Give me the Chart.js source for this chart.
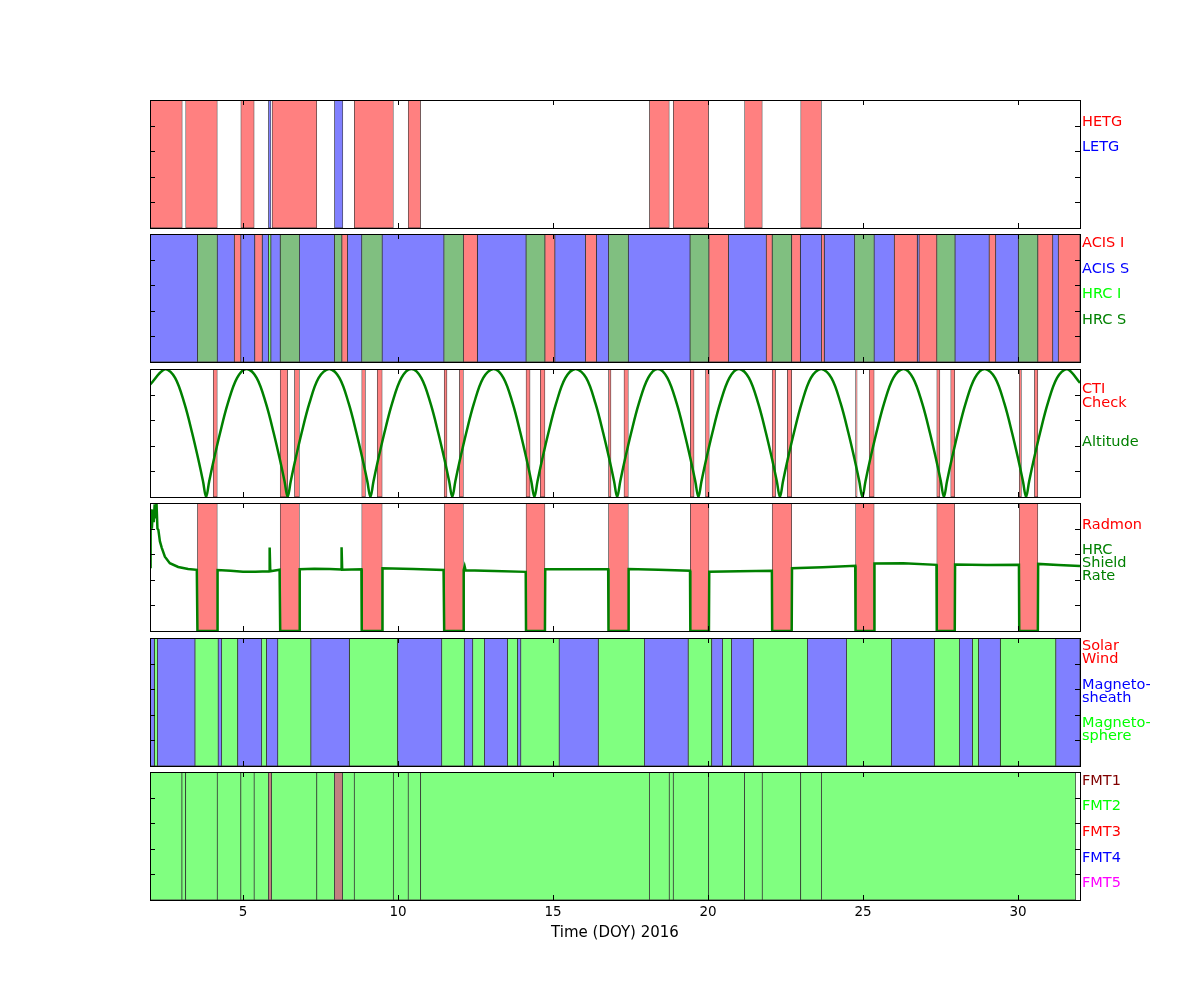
<!DOCTYPE html>
<html>
<head>
<meta charset="utf-8">
<title>Chandra status, DOY 2016</title>
<script src="https://cdn.jsdelivr.net/npm/chart.js@4.4.0/dist/chart.umd.min.js"></script>
<style>
  html, body { margin: 0; padding: 0; background: #fff; }
  #wrap { position: relative; width: 1200px; height: 1000px; }
  #wrap canvas { position: absolute; left: 0; }
</style>
</head>
<body>
<div id="wrap"></div>
<script>
/* ===============================
   Data (time in day of year 2016)
================================ */
const xTickVals = [5, 10, 15, 20, 25, 30];

// panel 1 - gratings
const hetgBands = [[2.00, 3.04], [3.15, 4.17], [4.93, 5.36], [5.94, 7.38], [8.59, 9.85], [10.33, 10.73],
  [18.11, 18.75], [18.88, 20.02], [21.18, 21.75], [22.99, 23.66]];
const letgBands = [[5.82, 5.90], [7.95, 8.22]];

// panel 2 - instruments
const acisIBands = [[4.72, 4.93], [5.38, 5.62], [8.19, 8.37], [12.11, 12.56], [14.74, 15.06], [16.05, 16.40],
  [20.03, 20.66], [21.88, 22.07], [22.70, 22.98], [23.66, 23.75], [26.01, 26.75], [26.81, 27.38],
  [29.07, 29.28], [30.64, 31.12], [31.30, 32.00]];
const acisSBands = [[2.00, 3.53], [4.17, 4.72], [4.93, 5.38], [5.62, 5.82], [5.90, 6.20], [6.82, 7.95],
  [8.37, 8.83], [9.49, 11.48], [12.56, 14.13], [15.06, 16.05], [16.40, 16.79], [17.43, 19.42],
  [20.66, 21.88], [22.98, 23.66], [23.75, 24.73], [25.36, 26.01], [26.75, 26.81], [27.97, 29.07],
  [29.28, 30.01], [31.12, 31.30]];
const hrcIBands = [[5.82, 5.90]];
const hrcSBands = [[3.53, 4.17], [6.20, 6.82], [7.95, 8.19], [8.83, 9.49], [11.48, 12.11], [14.13, 14.74],
  [16.79, 17.43], [19.42, 20.03], [22.07, 22.70], [24.73, 25.36], [27.38, 27.97], [30.01, 30.64]];

// panel 3 - CTI checks and altitude (1000 km)
const ctiBands = [[4.04, 4.17], [6.20, 6.44], [6.66, 6.82], [8.83, 8.95], [9.33, 9.49], [11.49, 11.58],
  [11.98, 12.11], [14.13, 14.26], [14.59, 14.74], [16.79, 16.87], [17.29, 17.43], [19.43, 19.55],
  [19.92, 20.04], [22.07, 22.18], [22.56, 22.70], [24.76, 24.81], [25.20, 25.36], [27.38, 27.48],
  [27.83, 27.96], [30.04, 30.11], [30.53, 30.64]];
const altTimes = [
  2.00, 2.49,
  2.81, 3.11, 3.36, 3.56, 3.71, 3.81,
  3.91, 4.06, 4.26, 4.51, 4.81, 5.12,
  5.44, 5.74, 5.99, 6.19, 6.34, 6.44,
  6.54, 6.69, 6.89, 7.14, 7.44, 7.78,
  8.11, 8.41, 8.66, 8.86, 9.01, 9.11,
  9.21, 9.36, 9.56, 9.81, 10.11, 10.43,
  10.75, 11.05, 11.30, 11.50, 11.65, 11.75,
  11.85, 12.00, 12.20, 12.45, 12.75, 13.08,
  13.40, 13.70, 13.95, 14.15, 14.30, 14.40,
  14.50, 14.65, 14.85, 15.10, 15.40, 15.73,
  16.07, 16.37, 16.62, 16.82, 16.97, 17.07,
  17.17, 17.32, 17.52, 17.77, 18.07, 18.38,
  18.69, 18.99, 19.24, 19.44, 19.59, 19.69,
  19.79, 19.94, 20.14, 20.39, 20.69, 21.00,
  21.32, 21.62, 21.87, 22.07, 22.22, 22.32,
  22.42, 22.57, 22.77, 23.02, 23.32, 23.65,
  23.98, 24.28, 24.53, 24.73, 24.88, 24.98,
  25.08, 25.23, 25.43, 25.68, 25.98, 26.30,
  26.61, 26.91, 27.16, 27.36, 27.51, 27.61,
  27.71, 27.86, 28.06, 28.31, 28.61, 28.93,
  29.26, 29.56, 29.81, 30.01, 30.16, 30.26,
  30.36, 30.51, 30.71, 30.96, 31.26, 31.58,
  32.00
];
const altValues = [
  124, 140,
  131, 105, 75, 48, 26, 10,
  26, 48, 75, 105, 131, 140,
  131, 105, 75, 48, 26, 10,
  26, 48, 75, 105, 131, 140,
  131, 105, 75, 48, 26, 10,
  26, 48, 75, 105, 131, 140,
  131, 105, 75, 48, 26, 10,
  26, 48, 75, 105, 131, 140,
  131, 105, 75, 48, 26, 10,
  26, 48, 75, 105, 131, 140,
  131, 105, 75, 48, 26, 10,
  26, 48, 75, 105, 131, 140,
  131, 105, 75, 48, 26, 10,
  26, 48, 75, 105, 131, 140,
  131, 105, 75, 48, 26, 10,
  26, 48, 75, 105, 131, 140,
  131, 105, 75, 48, 26, 10,
  26, 48, 75, 105, 131, 140,
  131, 105, 75, 48, 26, 10,
  26, 48, 75, 105, 131, 140,
  131, 105, 75, 48, 26, 10,
  26, 48, 75, 105, 131, 140,
  126
];
const altTicks = [36, 62, 88, 114];

// panel 4 - radmon off periods and HRC shield rate
const radmonBands = [[3.53, 4.17], [6.20, 6.82], [8.83, 9.49], [11.49, 12.11], [14.13, 14.74], [16.79, 17.43],
  [19.43, 20.03], [22.07, 22.70], [24.76, 25.36], [27.38, 27.96], [30.04, 30.64]];
const shieldTimes = [
  2.00, 2.02, 2.04, 2.06, 2.09, 2.12, 2.15, 2.18, 2.21, 2.24, 2.27, 2.32, 2.38, 2.48, 2.64, 2.91, 3.23, 3.51,
  3.53, 4.17, 4.18, 4.60, 5.00, 5.40, 5.85, 5.86, 5.88, 6.18,
  6.20, 6.82, 6.83, 7.30, 7.80, 8.17, 8.18, 8.20, 8.82,
  8.83, 9.49, 9.50, 10.50, 11.47,
  11.49, 12.11, 12.12, 12.15, 12.18, 13.10, 14.12,
  14.13, 14.74, 14.75, 15.70, 16.78,
  16.79, 17.43, 17.44, 18.40, 19.42,
  19.43, 20.03, 20.04, 21.00, 22.06,
  22.07, 22.70, 22.71, 23.70, 24.75,
  24.76, 25.36, 25.37, 26.30, 27.37,
  27.38, 27.96, 27.97, 29.00, 30.03,
  30.04, 30.64, 30.65, 31.30, 32.00
];
const shieldValues = [
  500, 850, 950, 800, 920, 850, 990, 880, 1000, 800, 790, 700, 650, 580, 530, 500, 484, 478,
  0, 0, 476, 470, 463, 462, 466, 652, 466, 478,
  0, 0, 482, 486, 484, 480, 655, 478, 482,
  0, 0, 490, 484, 477,
  0, 0, 478, 505, 474, 468, 462,
  0, 0, 482, 482, 482,
  0, 0, 484, 478, 471,
  0, 0, 463, 466, 470,
  0, 0, 490, 498, 510,
  0, 0, 528, 530, 517,
  0, 0, 520, 515, 517,
  0, 0, 524, 515, 508
];
const shieldTicks = [200, 400, 600, 800];

// panel 5 - environment
const solarWindBands = [];
const sheathBands = [[2.00, 2.14], [2.24, 3.45], [4.20, 4.31], [4.83, 5.60], [5.76, 6.12], [7.19, 8.43],
  [9.99, 11.41], [12.14, 12.41], [12.79, 13.53], [13.86, 13.96], [15.20, 16.46], [17.95, 19.36],
  [20.12, 20.47], [20.76, 21.46], [23.21, 24.47], [25.92, 27.30], [28.11, 28.53], [28.73, 29.43],
  [31.22, 32.00]];
const sphereBands = [[2.14, 2.24], [3.45, 4.20], [4.31, 4.83], [5.60, 5.76], [6.12, 7.19], [8.43, 9.99],
  [11.41, 12.14], [12.41, 12.79], [13.53, 13.86], [13.96, 15.20], [16.46, 17.95], [19.36, 20.12],
  [20.47, 20.76], [21.46, 23.21], [24.47, 25.92], [27.30, 28.11], [28.53, 28.73], [29.43, 31.22]];

// panel 6 - telemetry format
const fmt1Bands = [[5.82, 5.92], [7.95, 8.21]];
const fmt2Bands = [[2.00, 3.03], [3.03, 3.15], [3.15, 4.17], [4.17, 4.93], [4.93, 5.36], [5.36, 5.82],
  [5.92, 7.38], [7.38, 7.95], [8.21, 8.59], [8.59, 9.85], [9.85, 10.33], [10.33, 10.73], [10.73, 18.11],
  [18.11, 18.75], [18.75, 18.88], [18.88, 20.02], [20.02, 21.18], [21.18, 21.75], [21.75, 22.99],
  [22.99, 23.66], [23.66, 31.86]];

const bandTicks = [1, 2, 3, 4];

/* ===============================
   Right-hand labels
================================ */
const p1Labels = ["HETG", "LETG"];
const p2Labels = ["ACIS I", "ACIS S", "HRC I", "HRC S"];
const p3Labels = ["CTI", "Check", "Altitude"];
const p4Labels = ["Radmon", "HRC", "Shield", "Rate"];
const p5Labels = ["Solar", "Wind", "Magneto-", "sheath", "Magneto-", "sphere"];
const p6Labels = ["FMT1", "FMT2", "FMT3", "FMT4", "FMT5"];

const RED = "#ff0000", BLUE = "#0000ff", LIME = "#00ff00", GREEN = "#008000",
  MAROON = "#800000", MAGENTA = "#ff00ff";

Chart.defaults.font.family = "'DejaVu Sans', sans-serif";
Chart.defaults.color = "#000";

/* ===============================
   Frame, inward ticks, side labels
================================ */
const panelDecor = {
  id: "panelDecor",
  afterDraw(chart, args, opts) {
    const { ctx, chartArea: a, scales } = chart;
    ctx.save();
    ctx.strokeStyle = "#000";
    ctx.lineWidth = 1;
    ctx.beginPath();
    xTickVals.forEach((v) => {
      const px = Math.round(scales.x.getPixelForValue(v)) + 0.5;
      ctx.moveTo(px, a.top); ctx.lineTo(px, a.top + 5);
      ctx.moveTo(px, a.bottom); ctx.lineTo(px, a.bottom - 5);
    });
    opts.yTicks.forEach((v) => {
      const py = Math.round(scales.y.getPixelForValue(v)) + 0.5;
      ctx.moveTo(a.left, py); ctx.lineTo(a.left + 5, py);
      ctx.moveTo(a.right, py); ctx.lineTo(a.right - 5, py);
    });
    ctx.stroke();
    ctx.strokeRect(a.left + 0.5, a.top + 0.5, a.right - a.left, a.bottom - a.top);

    // side labels, nudged down so the glyph centres sit where the reference has them
    ctx.font = "14.5px 'DejaVu Sans'";
    ctx.textBaseline = "middle";
    ctx.textAlign = "left";
    opts.labels.forEach((t, i) => {
      ctx.fillStyle = opts.colors[i];
      ctx.fillText(t, a.right + 2, a.top + opts.offsets[i] + 1.5);
    });
    ctx.restore();
  },
};

function bandSet(bands, fill) {
  return {
    type: "bar",
    indexAxis: "y",
    xAxisID: "x",
    yAxisID: "yb",
    data: bands.map((b) => ({ x: b, y: "on" })),
    backgroundColor: fill,
    borderColor: "rgba(0,0,0,0.75)",
    borderWidth: 0.75,
    borderSkipped: false,
    grouped: false,
    categoryPercentage: 1,
    barPercentage: 1,
    order: 1,
  };
}

function lineSet(times, values, tension) {
  return {
    type: "line",
    xAxisID: "x",
    yAxisID: "y",
    data: times.map((t, i) => ({ x: t, y: values[i] })),
    borderColor: GREEN,
    borderWidth: 2.5,
    pointRadius: 0,
    tension: tension,
    fill: false,
    order: 0,
  };
}

function makePanel(top, datasets, yMin, yMax, decor, isBottom) {
  const canvas = document.createElement("canvas");
  const h = isBottom ? 180 : 132;
  canvas.width = 1200;
  canvas.height = h;
  canvas.style.top = top - 2 + "px";
  document.getElementById("wrap").appendChild(canvas);

  const xScale = {
    type: "linear",
    min: 2,
    max: 32,
    offset: false,
    grid: { offset: false, display: false, drawTicks: false },
    display: !!isBottom,
    afterBuildTicks: (scale) => {
      scale.ticks = xTickVals.map((v) => ({ value: v }));
    },
  };
  if (isBottom) {
    Object.assign(xScale, {
      border: { display: false },
      ticks: { font: { size: 13.5 }, color: "#000", padding: 4, maxRotation: 0, autoSkip: false },
      title: { display: true, text: "Time (DOY) 2016", font: { size: 15 }, color: "#000", padding: { top: 0, bottom: 8 } },
      afterFit: (scale) => { scale.height = 50; },
    });
  }

  new Chart(canvas, {
    type: "bar",
    data: { datasets },
    options: {
      responsive: false,
      animation: false,
      events: [],
      layout: { padding: { left: 150, right: 120, top: 2, bottom: isBottom ? 0 : 2 } },
      plugins: {
        legend: { display: false },
        tooltip: { enabled: false },
        panelDecor: decor,
      },
      scales: {
        x: xScale,
        yb: { type: "category", labels: ["on"], offset: true, display: false },
        y: { type: "linear", min: yMin, max: yMax, offset: false, display: false },
      },
    },
    plugins: [panelDecor],
  });
}

/* ===============================
   Build the six panels
================================ */
makePanel(100, [bandSet(hetgBands, "#ff8080"), bandSet(letgBands, "#8080ff")], 0, 5,
  { yTicks: bandTicks, labels: p1Labels, colors: [RED, BLUE], offsets: [20.5, 45.5] });

makePanel(234, [
  bandSet(acisIBands, "#ff8080"), bandSet(acisSBands, "#8080ff"),
  bandSet(hrcIBands, "#80ff80"), bandSet(hrcSBands, "#80bf80"),
], 0, 5, { yTicks: bandTicks, labels: p2Labels, colors: [RED, BLUE, LIME, GREEN], offsets: [8, 33.6, 59.2, 84.8] });

makePanel(369, [lineSet(altTimes, altValues, 0.35), bandSet(ctiBands, "#ff8080")], 10, 140,
  { yTicks: altTicks, labels: p3Labels, colors: [RED, RED, GREEN], offsets: [19, 32.5, 71.5] });

makePanel(503, [lineSet(shieldTimes, shieldValues, 0), bandSet(radmonBands, "#ff8080")], 0, 1000,
  { yTicks: shieldTicks, labels: p4Labels, colors: [RED, GREEN, GREEN, GREEN], offsets: [20.5, 45.5, 58.5, 71.5] });

makePanel(638, [
  bandSet(solarWindBands, "#ff8080"), bandSet(sheathBands, "#8080ff"), bandSet(sphereBands, "#80ff80"),
], 0, 5, { yTicks: bandTicks, labels: p5Labels, colors: [RED, RED, BLUE, BLUE, LIME, LIME],
  offsets: [6.5, 19.5, 45.5, 58.5, 84, 96.5] });

makePanel(772, [bandSet(fmt1Bands, "#c08080"), bandSet(fmt2Bands, "#80ff80")], 0, 5,
  { yTicks: bandTicks, labels: p6Labels, colors: [MAROON, LIME, RED, BLUE, MAGENTA],
    offsets: [8, 33, 58.5, 84.5, 109.5] }, true);
</script>
</body>
</html>
